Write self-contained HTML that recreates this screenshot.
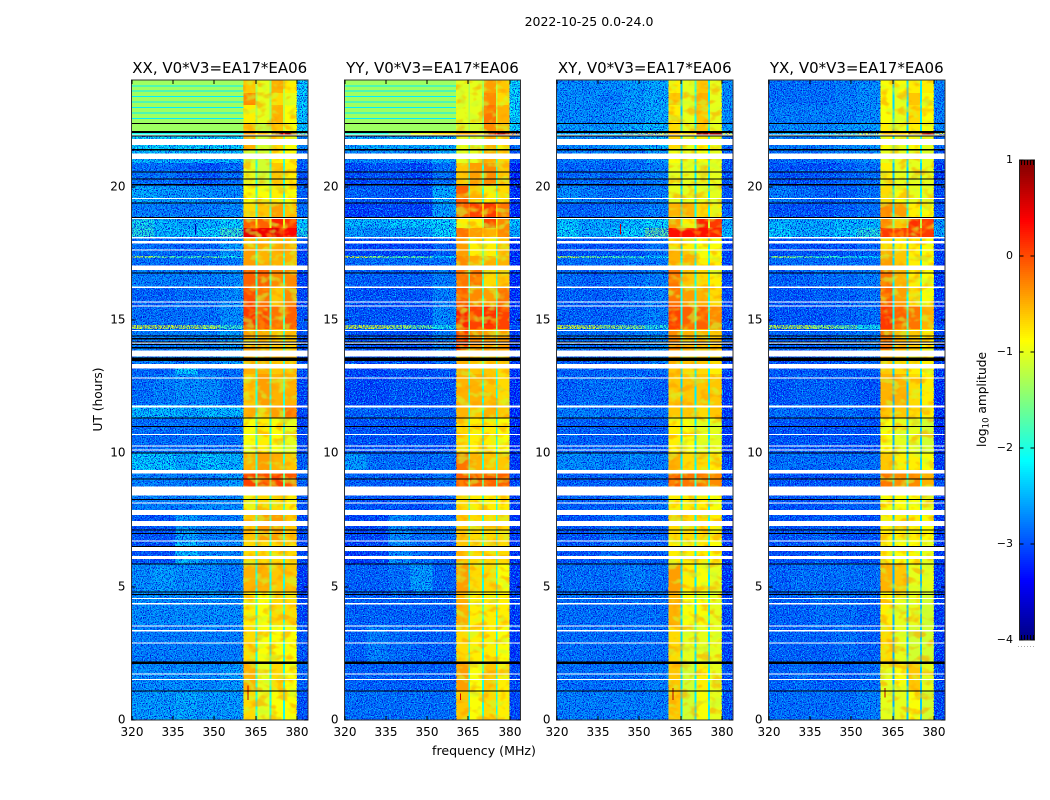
<!DOCTYPE html>
<html lang="en">
<head>
<meta charset="utf-8">
<title>2022-10-25 0.0-24.0</title>
<style>
html,body{margin:0;padding:0;background:#fff;width:1050px;height:800px;overflow:hidden}
svg{display:block}
text{font-family:"DejaVu Sans","Liberation Sans",sans-serif;fill:#000}
</style>
</head>
<body>
<svg id="chart" xmlns="http://www.w3.org/2000/svg" width="1050" height="800" viewBox="0 0 1050 800">
<defs>
<filter id="speckle-dark" x="0" y="0" width="100%" height="100%" color-interpolation-filters="sRGB">
<feTurbulence type="fractalNoise" baseFrequency="0.85" numOctaves="2" seed="3"/>
<feColorMatrix type="matrix" values="0 0 0 0 0  0 0 0 0 0.04  0 0 0 0 0.85  7 0 0 0 -3.35"/>
</filter>
<filter id="speckle-light" x="0" y="0" width="100%" height="100%" color-interpolation-filters="sRGB">
<feTurbulence type="fractalNoise" baseFrequency="0.85" numOctaves="2" seed="11"/>
<feColorMatrix type="matrix" values="0 0 0 0 0  0 0 0 0 0.75  0 0 0 0 1  0 7 0 0 -3.7"/>
</filter>
<filter id="blotch-warm" x="0" y="0" width="100%" height="100%" color-interpolation-filters="sRGB">
<feTurbulence type="fractalNoise" baseFrequency="0.09 0.13" numOctaves="2" seed="5"/>
<feColorMatrix type="matrix" values="0 0 0 0 1  0 0 0 0 0.62  0 0 0 0 0  5 0 0 0 -2.5"/>
</filter>
<filter id="blotch-cool" x="0" y="0" width="100%" height="100%" color-interpolation-filters="sRGB">
<feTurbulence type="fractalNoise" baseFrequency="0.09 0.13" numOctaves="2" seed="23"/>
<feColorMatrix type="matrix" values="0 0 0 0 0.78  0 0 0 0 1  0 0 0 0 0.2  0 5 0 0 -2.6"/>
</filter>
</defs>
<text x="589" y="26" text-anchor="middle" font-size="12.5">2022-10-25 0.0-24.0</text>
<text x="484" y="755" text-anchor="middle" font-size="12.6">frequency (MHz)</text>
<text transform="translate(102,399.5) rotate(-90)" text-anchor="middle" font-size="12.2">UT (hours)</text>
<text transform="translate(986,399.5) rotate(-90)" text-anchor="middle" font-size="12.2">log<tspan font-size="8.5" dy="2.5">10</tspan><tspan dy="-2.5"> amplitude</tspan></text>
</svg>
<script>
// Frequency channel edges (MHz)
const freqEdges = [320,328,336,344,352,360.6,365,365.7,370,370.7,375,375.7,380,384];
// UT band edges (hours), top to bottom
const utEdges = [24,23.51,23.06,22.39,22.09,21.9,21.375,20.89,20.025,19.39,18.79,18.45,18.11,17.625,17.4,17.325,16.875,16.24,15.525,14.81,14.66,13.875,13.35,12.975,11.81,11.325,10.01,9.375,8.74,7.875,6.75,5.85,4.8,3.56,2.175,1.09,0];
// log10 amplitude per [UT band][frequency channel]
const xxValues = [
[-1.35,-1.35,-1.35,-1.35,-1.35,-.6,-1.3,-1,-1.4,-.5,-1.2,-.8,-2.2],
[-1.35,-1.35,-1.35,-1.35,-1.35,-.3,-1.3,-1,-1.4,-.7,-1.2,-1,-2.2],
[-1.35,-1.35,-1.35,-1.35,-1.35,-.8,-1.3,-1,-1.4,-.5,-1.2,-.9,-2.2],
[-1.35,-1.35,-1.35,-1.35,-1.35,-.6,-1.3,-1.2,-1.4,-.6,-1.2,-.9,-2.2],
[-2,-2,-2,-2,-2,-.4,-.8,-.5,-.8,.9,.2,.9,-1.5],
[-2.1,-2.1,-2.1,-2.1,-2.1,-.5,-1.4,-1.1,-1.5,-.7,-1.5,-.9,-2.6],
[-2.3,-2.3,-2.3,-2.3,-2.3,-1.1,-1.8,-1.1,-1.8,-.8,-1.8,-.9,-2.8],
[-2.8,-2.8,-2.9,-3,-2.8,-1,-1.9,-1.1,-1.9,-.6,-1.9,-.8,-3],
[-2.4,-2.5,-2.5,-2.6,-2.6,-.9,-1.8,-.9,-1.8,-.8,-1.9,-.9,-2.9],
[-2.7,-2.7,-2.7,-2.7,-2.6,-.7,-1.8,-.6,-1.7,-.4,-1.8,-.6,-2.8],
[-2,-2.3,-2.4,-2.3,-2.1,-.1,-1,-.1,-1,.2,-1,.1,-2.2],
[-1.9,-2.3,-2.3,-2.1,-1.8,.5,.3,.45,.3,.5,.3,.35,-2],
[-2.8,-2.8,-2.9,-2.8,-2.5,-.5,-1.8,-.5,-1.8,-.5,-1.8,-.5,-3],
[-2.8,-2.8,-2.9,-2.8,-2.5,-.4,-1.8,-.5,-1.8,-.5,-1.8,-.5,-3.2],
[-1.2,-1.6,-1.8,-1.6,-2,-.4,-1.5,-.5,-1.5,-.5,-1.5,-.5,-3],
[-2.8,-2.8,-2.8,-2.8,-2.7,-.4,-1.8,-.5,-1.8,-.5,-1.8,-.5,-3.2],
[-2.7,-2.7,-2.7,-2.7,-2.6,-.1,-1.8,-.1,-1.8,-.3,-1.8,-.3,-3.1],
[-2.9,-2.9,-2.8,-2.8,-2.6,0,-1.8,-.2,-1.8,-.6,-1.8,-.3,-3.1],
[-2.8,-2.8,-2.8,-2.8,-2.6,.1,-1.8,0,-1.8,-.2,-1.8,-.1,-3],
[-1,-1,-1.1,-1.2,-1.8,0,-1.5,0,-1.5,-.2,-1.5,-.1,-3],
[-2.7,-2.7,-2.7,-2.7,-2.5,-.4,-1.8,-.5,-1.8,-.6,-1.8,-.6,-3],
[-2.7,-2.7,-2.7,-2.7,-2.5,-.5,-1.8,-.5,-1.8,-.6,-1.8,-.6,-3],
[-2.9,-2.9,-2.2,-2.8,-2.8,-.5,-1.8,-.5,-1.8,-.6,-1.8,-.6,-3],
[-2.8,-2.7,-2.6,-2.6,-2.8,-.6,-1.9,-.4,-1.9,-.5,-1.9,-.5,-3.1],
[-2.3,-2.3,-2.4,-2.3,-2.3,-.5,-1.9,-.6,-1.9,-.4,-1.9,-.2,-3.1],
[-2.8,-2.8,-2.8,-2.8,-2.8,-.9,-1.9,-.8,-1.9,-.9,-1.9,-1,-3.1],
[-2.2,-2.2,-2.4,-2.2,-2.3,-.5,-1.8,-.4,-1.8,-.5,-1.8,-.6,-2.9],
[-2.7,-2.7,-2.7,-2.7,-2.5,.05,-1.6,0,-1.6,.05,-1.6,-.05,-2.9],
[-2.7,-2.7,-2.7,-2.6,-2.6,-.8,-1.8,-.7,-1.8,-.7,-1.8,-.8,-3],
[-3,-3,-2.5,-2.7,-2.7,-.6,-1.8,-.4,-1.8,-.4,-1.8,-.6,-3.1],
[-3,-3,-2.3,-2.6,-2.6,-.7,-1.9,-.7,-1.9,-.7,-1.9,-.7,-3.1],
[-2.6,-2.5,-2.6,-2.6,-2.7,-.5,-2,-.5,-2,-.6,-2,-.6,-3.2],
[-2.6,-2.6,-2.6,-2.6,-2.6,-.8,-1.9,-.9,-1.9,-.7,-1.9,-.7,-3.1],
[-2.7,-2.7,-2.7,-2.7,-2.7,-.7,-2,-.9,-2,-.9,-2,-.9,-3],
[-2.6,-2.6,-2.6,-2.6,-2.5,-.5,-1.9,-1,-1.9,-.7,-1.9,-.9,-2.9],
[-2.5,-2.5,-2.4,-2.5,-2.5,-.7,-2,-1,-2,-.9,-2,-.9,-3]
];
const yyValues = [
[-1.35,-1.35,-1.35,-1.35,-1.35,-1,-1.3,-1,-1.4,-.4,-1.2,-.6,-2.1],
[-1.35,-1.35,-1.35,-1.35,-1.35,-1,-1.3,-1,-1.4,-.3,-1.2,-.7,-2.1],
[-1.35,-1.35,-1.35,-1.35,-1.35,-1,-1.3,-1,-1.4,-.2,-1.2,-.5,-2.1],
[-1.35,-1.35,-1.35,-1.35,-1.35,-1.1,-1.3,-1.1,-1.4,-.3,-1.2,-.5,-2.1],
[-1.9,-1.9,-1.6,-1,-.7,-.5,-.5,-.5,-.5,.9,.2,.9,-.4],
[-2.4,-2.4,-2.4,-2.4,-2.3,-1,-1.7,-1.1,-1.7,-.5,-1.7,-.8,-2.8],
[-2.6,-2.6,-2.6,-2.6,-2.4,-1,-1.8,-1,-1.8,-.5,-1.8,-.7,-3],
[-3.1,-3,-3,-3.1,-2.8,-.6,-1.9,-.4,-1.9,-.3,-1.9,-.6,-3.4],
[-2.9,-2.9,-3,-3,-2.4,-.1,-1.9,-.6,-1.9,-.8,-1.9,-.7,-3.3],
[-3.2,-3.1,-3.1,-3.1,-2.5,-.1,-.2,.05,-.6,.1,-.6,-.2,-3.3],
[-2.3,-2.3,-2.2,-2.2,-2.1,-.8,-1.3,-.8,-1.3,0,-1,-.3,-2.2],
[-2.5,-2.6,-2.5,-2.5,-2.1,-.2,-.5,-.4,-.6,-.5,-.7,-.3,-2.4],
[-3.1,-3.1,-3.1,-3.1,-2.9,-.4,-1.8,-.8,-1.8,-.8,-1.8,-.6,-3.3],
[-3.1,-3.1,-3.1,-3.1,-2.9,-.4,-1.8,-.8,-1.8,-.8,-1.8,-.6,-3.3],
[-1,-1.4,-1.7,-1.6,-2.2,-.3,-1.5,-.5,-1.5,-.5,-1.5,-.5,-3.3],
[-2.8,-2.8,-2.8,-2.8,-2.8,-.3,-1.8,-.5,-1.8,-.5,-1.8,-.5,-3.3],
[-2.9,-2.9,-2.9,-2.9,-2.7,-.2,-1.8,-.2,-1.8,-.7,-1.8,-.6,-3.3],
[-3,-3,-3,-3,-2.7,-.1,-1.8,-.3,-1.8,-.4,-1.8,-.2,-3.3],
[-3,-3,-3,-3,-2.6,.2,-1.7,.05,-1.7,.15,-1.7,.05,-3.2],
[-1,-1,-1.2,-1.5,-2,.2,-1.5,.05,-1.5,.1,-1.5,.05,-3],
[-3,-3,-3,-3,-2.7,.1,-1.7,-.3,-1.7,-.4,-1.7,-.4,-3.2],
[-3,-3,-3,-3,-2.8,-.5,-1.8,-.6,-1.8,-.6,-1.8,-.6,-3.2],
[-3.1,-3.1,-3,-3.1,-3,-.5,-1.9,-.6,-1.9,-.6,-1.9,-.7,-3.3],
[-3.1,-3.1,-3,-3,-3,-.5,-2,-.5,-2,-.6,-2,-.7,-3.3],
[-2.9,-2.9,-2.9,-2.9,-2.9,-.5,-2,-.6,-2,-.5,-2,-.6,-3.3],
[-3,-3,-3,-3,-3,-.7,-2,-.8,-2,-.8,-2,-.9,-3.3],
[-2.5,-2.8,-2.8,-2.8,-2.8,-.2,-1.9,-.5,-1.9,-.6,-1.9,-.6,-3.2],
[-2.9,-2.9,-2.9,-2.9,-2.8,-.1,-1.7,-.1,-1.7,-.1,-1.7,-.1,-3.1],
[-3,-3,-3,-3,-2.9,-.7,-1.9,-.8,-1.9,-.8,-1.9,-.8,-3.2],
[-3.1,-3.1,-2.6,-2.8,-2.8,-.6,-1.9,-.7,-1.9,-.7,-1.9,-.7,-3.2],
[-3.2,-3.1,-2.6,-2.8,-2.9,-.6,-1.9,-.7,-1.9,-.7,-1.9,-.7,-3.2],
[-2.9,-2.9,-2.8,-2.5,-2.9,-.4,-2,-.7,-2,-.7,-2,-.9,-3.2],
[-2.9,-2.9,-2.9,-2.9,-2.9,-.5,-2,-.8,-2,-.8,-2,-.8,-3.2],
[-2.9,-2.7,-2.8,-2.9,-2.9,-.7,-2,-.8,-2,-.8,-2,-.9,-3.2],
[-2.9,-2.9,-2.9,-2.9,-2.9,-.4,-2,-.9,-2,-.6,-2,-.8,-3.1],
[-2.8,-2.8,-2.8,-2.8,-2.8,-.6,-2,-.9,-2,-.7,-2,-.8,-3.1]
];
const xyValues = [
[-2.6,-2.6,-2.6,-2.5,-2.4,-.8,-2.4,-1,-2,-.6,-2.2,-1,-2.6],
[-2.6,-2.6,-2.7,-2.5,-2.4,-.6,-2.4,-1,-2,-.5,-2.2,-1,-2.6],
[-2.6,-2.6,-2.6,-2.5,-2.4,-.8,-2.4,-1,-2,-.6,-2.2,-1,-2.6],
[-2.5,-2.5,-2.5,-2.4,-2.3,-.7,-2.3,-1,-2,-.6,-2.2,-1,-2.5],
[-2.3,-2.3,-2.1,-1.5,-1,-.5,-.8,-.6,-.8,.9,.2,.9,-.9],
[-2.6,-2.6,-2.6,-2.5,-2.3,-.7,-2.2,-1,-2.1,-.8,-2.1,-1,-2.8],
[-2.7,-2.7,-2.7,-2.7,-2.5,-.9,-2.2,-1,-2.1,-.9,-2.1,-1,-2.9],
[-2.9,-2.8,-2.9,-2.8,-2.7,-1,-2.4,-1,-2.2,-1,-2.2,-1,-3],
[-2.6,-2.7,-2.8,-2.8,-2.7,-1,-2.3,-1,-2.1,-1,-2.2,-1,-3],
[-2.9,-2.9,-2.8,-2.8,-2.7,-.5,-2.2,-.5,-2,-.7,-2.1,-.8,-2.9],
[-2.2,-2.4,-2.4,-2.2,-2.1,-.4,-1.6,-.8,-1.4,.2,-1.1,.1,-2.4],
[-2.1,-2.4,-2.3,-2.1,-1.6,.3,.2,.3,.15,.3,.1,.2,-2.3],
[-3,-3,-3,-3,-2.8,-.7,-2.3,-.8,-2.1,-.9,-2.1,-.9,-3.1],
[-3,-3,-3,-3,-2.8,-.5,-2.3,-.6,-2.1,-.9,-2.1,-.9,-3.1],
[-1.2,-1.5,-1.7,-1.8,-2.1,-.5,-2,-.6,-1.8,-.9,-1.9,-.9,-3],
[-2.8,-2.8,-2.8,-2.7,-2.7,-.5,-2.2,-.5,-2.1,-.8,-2.1,-.8,-3.1],
[-2.8,-2.9,-2.8,-2.8,-2.7,-.2,-2.1,-.6,-2,-.7,-2,-.8,-3.1],
[-2.9,-2.9,-2.9,-2.8,-2.7,-.2,-2.1,-.4,-2,-.5,-2,-.7,-3.1],
[-2.9,-2.9,-2.9,-2.8,-2.7,.05,-2,-.1,-1.9,-.1,-1.9,-.3,-3.1],
[-1,-1.1,-1.3,-1.4,-1.9,.05,-1.7,-.1,-1.7,-.1,-1.7,-.3,-3],
[-2.8,-2.8,-2.8,-2.7,-2.6,-.3,-2.1,-.5,-2,-.5,-2,-.6,-3],
[-2.9,-2.9,-2.9,-2.9,-2.7,-.5,-2.1,-.6,-2,-.6,-2,-.7,-3.1],
[-2.9,-2.9,-2.9,-2.9,-2.8,-.6,-2.2,-.7,-2.1,-.7,-2.1,-.8,-3.1],
[-2.9,-2.8,-2.8,-2.8,-2.9,-.6,-2.3,-.6,-2.2,-.6,-2.2,-.6,-3.2],
[-2.7,-2.7,-2.8,-2.7,-2.8,-.6,-2.3,-.6,-2.2,-.7,-2.2,-.6,-3.2],
[-2.9,-2.9,-2.9,-2.9,-2.9,-.8,-2.3,-.9,-2.2,-1,-2.2,-1,-3.2],
[-2.6,-2.6,-2.7,-2.6,-2.7,-.5,-2.2,-.7,-2.1,-.7,-2.1,-.8,-3.1],
[-2.9,-2.9,-2.9,-2.9,-2.8,-.1,-1.9,-.2,-1.9,-.2,-1.9,-.3,-3.1],
[-2.9,-2.9,-2.9,-2.8,-2.8,-.8,-2.2,-.8,-2.1,-.8,-2.1,-.9,-3.1],
[-3,-3,-2.8,-2.9,-2.9,-.7,-2.2,-.7,-2.1,-.7,-2.1,-.8,-3.2],
[-3,-3,-2.8,-2.9,-2.9,-.8,-2.2,-.8,-2.1,-.8,-2.1,-.9,-3.2],
[-2.8,-2.8,-2.8,-2.7,-2.8,-.4,-2.3,-.8,-2.2,-.9,-2.2,-1,-3.2],
[-2.8,-2.8,-2.8,-2.8,-2.8,-.5,-2.3,-.9,-2.2,-.9,-2.2,-1,-3.1],
[-2.8,-2.8,-2.8,-2.8,-2.8,-.7,-2.3,-1,-2.2,-1,-2.2,-1,-3.1],
[-2.8,-2.8,-2.8,-2.8,-2.7,-.6,-2.3,-1.1,-2.2,-.8,-2.2,-1,-3],
[-2.7,-2.7,-2.7,-2.7,-2.7,-.6,-2.3,-1.1,-2.2,-.9,-2.2,-1,-3]
];
const yxValues = [
[-2.8,-2.8,-2.8,-2.7,-2.6,-.9,-2.3,-.9,-2.3,-.8,-2.2,-.8,-2.7],
[-2.8,-2.8,-2.8,-2.7,-2.6,-.9,-2.3,-1,-2.3,-.6,-2.2,-.9,-2.7],
[-2.7,-2.7,-2.7,-2.7,-2.6,-.9,-2.3,-1,-2.3,-.7,-2.2,-.9,-2.7],
[-2.6,-2.6,-2.6,-2.5,-2.5,-.8,-2.3,-1,-2.3,-.8,-2.2,-.9,-2.6],
[-2.3,-2.3,-2.1,-1.7,-1.1,-.5,-.9,-.6,-.9,.9,.2,.9,-1],
[-2.7,-2.7,-2.7,-2.6,-2.5,-.9,-2.2,-1,-2.2,-.9,-2.1,-1,-2.9],
[-2.8,-2.8,-2.8,-2.7,-2.6,-1,-2.2,-1,-2.2,-1,-2.1,-1,-3],
[-3,-3,-3,-2.9,-2.8,-.8,-2.4,-1,-2.3,-1,-2.3,-1,-3.2],
[-2.7,-2.8,-2.9,-2.9,-2.8,-.7,-2.3,-.9,-2.2,-1,-2.2,-1,-3.1],
[-3,-3,-3,-2.9,-2.8,-.3,-2.2,-.4,-2.1,-.8,-2.1,-.9,-3],
[-2.3,-2.4,-2.4,-2.3,-2.3,-.3,-1.6,-.6,-1.5,.15,-1.2,.05,-2.5],
[-2.2,-2.4,-2.4,-2.2,-1.9,.1,-.2,.05,-.2,.1,-.2,.1,-2.4],
[-3,-3,-3,-3,-2.9,-.7,-2.4,-.8,-2.3,-.8,-2.3,-.9,-3.2],
[-3,-3,-3,-3,-2.9,-.5,-2.4,-.6,-2.3,-.8,-2.3,-.9,-3.2],
[-1.3,-1.6,-1.8,-1.9,-2.2,-.4,-2,-.6,-2,-.8,-2,-.9,-3.1],
[-2.8,-2.8,-2.8,-2.8,-2.8,-.4,-2.3,-.6,-2.2,-.8,-2.2,-.9,-3.1],
[-2.9,-2.9,-2.8,-2.8,-2.7,-.2,-2.2,-.5,-2.1,-.8,-2.1,-.9,-3.2],
[-3,-3,-2.9,-2.9,-2.8,-.1,-2.2,-.4,-2.1,-.7,-2.1,-.9,-3.2],
[-3,-3,-3,-2.9,-2.8,.1,-2.1,-.1,-2,-.2,-2,-.5,-3.2],
[-1.1,-1.1,-1.3,-1.5,-2,.1,-1.8,-.1,-1.8,-.2,-1.8,-.5,-3],
[-2.9,-2.9,-2.9,-2.8,-2.7,-.2,-2.2,-.5,-2.1,-.6,-2.1,-.8,-3.1],
[-3,-3,-3,-3,-2.8,-.6,-2.3,-.7,-2.2,-.7,-2.2,-.8,-3.2],
[-3,-3,-3,-3,-2.9,-.6,-2.3,-.7,-2.2,-.8,-2.2,-.9,-3.2],
[-3,-2.9,-2.9,-2.9,-3,-.5,-2.5,-.5,-2.4,-.7,-2.4,-.8,-3.3],
[-2.8,-2.8,-2.9,-2.8,-2.9,-.6,-2.5,-.6,-2.4,-.7,-2.4,-.8,-3.3],
[-3,-3,-3,-3,-3,-.9,-2.5,-1,-2.4,-1,-2.4,-1.1,-3.3],
[-2.8,-2.8,-2.8,-2.8,-2.8,-.6,-2.4,-.8,-2.3,-.8,-2.3,-.9,-3.2],
[-3,-3,-3,-3,-2.9,-.2,-2.1,-.3,-2,-.3,-2,-.5,-3.1],
[-3,-3,-3,-2.9,-2.9,-.9,-2.4,-.9,-2.3,-.9,-2.3,-1,-3.2],
[-3,-3,-2.9,-3,-3,-.8,-2.4,-.8,-2.3,-.8,-2.3,-.9,-3.2],
[-3,-3,-2.9,-3,-3,-.8,-2.4,-.9,-2.3,-.9,-2.3,-1,-3.2],
[-2.9,-2.8,-2.8,-2.8,-2.8,-.5,-2.5,-.6,-2.4,-1,-2.4,-1,-3.2],
[-2.9,-2.9,-2.8,-2.8,-2.9,-.8,-2.5,-1,-2.4,-1,-2.4,-1.1,-3.2],
[-2.9,-2.9,-2.9,-2.8,-2.9,-.7,-2.5,-1,-2.4,-1.1,-2.4,-1.1,-3.2],
[-2.9,-2.8,-2.9,-2.9,-2.8,-1,-2.5,-.9,-2.4,-.6,-2.4,-1,-3.1],
[-2.8,-2.8,-2.8,-2.8,-2.7,-1,-2.5,-1,-2.4,-.9,-2.4,-1.1,-3.1]
];
// Flagged (no data) UT ranges in hours: [end, start]
const whiteFlags = [[21.96,21.93],[21.79,21.56],[21.25,21.04],[19.58,19.53],[18.84,18.79],[18.11,18.06],[17.96,17.875],[17.65,17.6],[17.05,16.875],[16.25,16.2],[15.69,15.65],[15.55,15.5],[14.625,14.59],[14.16,14.12],[13.85,13.625],[13.35,13.19],[12.85,12.825],[11.8,11.725],[10.725,10.7],[10.29,10.25],[10.15,10.11],[9.375,9.25],[8.75,8.41],[8.16,8.12],[7.875,7.69],[7.46,7.275],[6.74,6.7],[6.5,6.34],[6.15,6.04],[4.575,4.53],[4.38,4.34],[3.55,3.51],[3.375,3.31],[2.91,2.875],[1.74,1.71],[1.54,1.51]];
const blackFlags = [[22.39,22.36],[22.09,22.01],[21.91,21.89],[21.42,21.35],[20.56,20.53],[20.31,20.27],[20.1,20.04],[19.4,19.38],[18.86,18.84],[16.79,16.76],[14.41,14.39],[14.325,14.275],[14.19,14.16],[14.1,14.08],[13.98,13.925],[13.6,13.46],[11.35,11.325],[11.025,11],[10.04,10],[9.05,9.03],[8.29,8.26],[7.15,7.125],[7.02,7],[6.525,6.5],[5.875,5.85],[4.81,4.775],[4.73,4.71],[2.19,2.1],[1.11,1.09]];
// Periodic dips in the smooth top block (hours)
const dipHours = [23.8,23.6,23.4,23.2,22.99,22.79,22.58];
// Narrow hot features: [panel, freq MHz, start h, end h, log10 amp]
const hotFeatures = [[0,362,0.75,1.3,.7],[1,362,0.75,1.0,.6],[2,362,0.75,1.2,.7],[3,362,0.85,1.2,.7],[2,343,18.2,18.6,.6],[0,343,18.2,18.6,-3.8]];
// Tick values
const freqTicks = [320,335,350,365,380];
const utTicks = [0,5,10,15,20];
const cbarTicks = [1,0,-1,-2,-3,-4];
const panelTitles = ["XX, V0*V3=EA17*EA06","YY, V0*V3=EA17*EA06","XY, V0*V3=EA17*EA06","YX, V0*V3=EA17*EA06"];

const panelValues = [xxValues, yyValues, xyValues, yxValues];
const panelLefts = [131.5, 344.5, 556.5, 768.5];
const panelWidths = [176.5, 176, 176.5, 176.5];
const plotTop = 80, plotBottom = 720;
const NS = "http://www.w3.org/2000/svg";
const root = document.getElementById("chart");

function xScale(p, f){ return panelLefts[p] + (f - 320) * panelWidths[p] / 64; }
function yScale(h){ return plotBottom - h * (plotBottom - plotTop) / 24; }
function jet(v){
  const t = Math.max(0, Math.min(1, (v + 4) / 5));
  const ch = (c) => Math.round(255 * Math.max(0, Math.min(1, 1.5 - Math.abs(4 * t - c))));
  return "rgb(" + ch(3) + "," + ch(2) + "," + ch(1) + ")";
}
function make(tag, attrs, parent){
  const el = document.createElementNS(NS, tag);
  for (const k in attrs) el.setAttribute(k, attrs[k]);
  parent.appendChild(el);
  return el;
}
function line(x1, y1, x2, y2, parent, name){
  const el = make("line", {x1, y1, x2, y2, stroke:"#000", "stroke-width":1, "shape-rendering":"crispEdges"}, parent);
  
  
  return el;
}

panelValues.forEach((values, p) => {
  const g = make("g", {}, root);
  
  
  const left = xScale(p, 320), right = left + panelWidths[p];

  values.forEach((row, r) => {
    row.forEach((v, c) => {
      const x0 = xScale(p, freqEdges[c]), x1 = xScale(p, freqEdges[c + 1]);
      const y0 = yScale(utEdges[r]), y1 = yScale(utEdges[r + 1]);
      const cell = make("rect", {x:x0, y:y0, width:x1 - x0, height:y1 - y0, fill:jet(v), "shape-rendering":"crispEdges"}, g);
      
      
    });
  });

  if (p < 2) {
    dipHours.forEach((h) => {
      const dip = make("rect", {x:left, y:yScale(h), width:xScale(p, 360.6) - left, height:1, fill:jet(-2.2), "shape-rendering":"crispEdges"}, g);
      
      
    });
  }

  const speckTop = p < 2 ? yScale(21.9) : plotTop;
  ["blotch-warm","blotch-cool"].forEach((fid) => {
    const b = make("rect", {x:xScale(p,360.6), y:plotTop, width:xScale(p,380) - xScale(p,360.6), height:plotBottom - plotTop, filter:"url(#" + fid + ")", opacity:.55}, g);
    
    
  });
  ["speckle-dark","speckle-light"].forEach((fid) => {
    const s = make("rect", {x:xScale(p,320), y:speckTop, width:xScale(p,360.6) - xScale(p,320), height:plotBottom - speckTop, filter:"url(#" + fid + ")"}, g);
    
    
    const e = make("rect", {x:xScale(p,380), y:plotTop, width:xScale(p,384) - xScale(p,380), height:plotBottom - plotTop, filter:"url(#" + fid + ")"}, g);
    
    
  });

  hotFeatures.filter((f) => f[0] === p).forEach((f) => {
    const m = make("rect", {x:xScale(p, f[1]), y:yScale(f[3]), width:1, height:yScale(f[2]) - yScale(f[3]), fill:jet(f[4]), "shape-rendering":"crispEdges"}, g);
    
    
  });

  whiteFlags.forEach((b) => {
    const f = make("rect", {x:left, y:yScale(b[0]), width:panelWidths[p], height:Math.max(1, yScale(b[1]) - yScale(b[0])), fill:"#fff", "shape-rendering":"crispEdges"}, g);
    
    
  });
  blackFlags.forEach((b) => {
    const f = make("rect", {x:left, y:yScale(b[0]), width:panelWidths[p], height:Math.max(1, yScale(b[1]) - yScale(b[0])), fill:"#000", "shape-rendering":"crispEdges"}, g);
    
    
  });

  const frame = make("rect", {x:left, y:plotTop, width:panelWidths[p], height:plotBottom - plotTop, fill:"none", stroke:"#333", "stroke-width":1}, g);
  
  

  freqTicks.forEach((f) => {
    const x = Math.round(xScale(p, f));
    line(x, plotBottom, x, plotBottom - 4, g, 'x-tick-bottom');
    line(x, plotTop, x, plotTop + 4, g, 'x-tick-top');
    const t = make("text", {x, y:plotBottom + 16, "text-anchor":"middle", "font-size":12}, g);
    
    
    t.textContent = f;
  });
  utTicks.forEach((h) => {
    const y = Math.round(yScale(h));
    line(left, y, left + 4, y, g, 'y-tick-left');
    line(right, y, right - 4, y, g, 'y-tick-right');
    const t = make("text", {x:left - 6, y:y + 3.5, "text-anchor":"end", "font-size":12}, g);
    
    
    t.textContent = h;
  });

  const title = make("text", {x:left + panelWidths[p] / 2, y:73, "text-anchor":"middle", "font-size":15}, g);
  
  
  title.textContent = panelTitles[p];
});

// Colorbar
const cbLeft = 1019.5, cbWidth = 15, cbTop = 160, cbBottom = 640;
function cbScale(v){ return cbBottom - (v + 4) * (cbBottom - cbTop) / 5; }
const cbar = make("g", {}, root);


for (let yy = cbTop; yy < cbBottom; yy += 2) {
  const v = 1 - (yy - cbTop) * 5 / (cbBottom - cbTop);
  const seg = make("rect", {x:cbLeft, y:yy, width:cbWidth, height:2, fill:jet(v), "shape-rendering":"crispEdges"}, cbar);
  
  
}
const cbFrame = make("rect", {x:cbLeft, y:cbTop, width:cbWidth, height:cbBottom - cbTop, fill:"none", stroke:"#222", "stroke-width":1}, cbar);


cbarTicks.forEach((v) => {
  const y = Math.round(cbScale(v));
  line(cbLeft, y, cbLeft + 4, y, cbar, 'colorbar-tick-left');
  line(cbLeft + cbWidth - 4, y, cbLeft + cbWidth, y, cbar, 'colorbar-tick-right');
  const t = make("text", {x:1013, y:y + 3, "text-anchor":"end", "font-size":11}, cbar);
  
  
  t.textContent = v < 0 ? "\u2212" + Math.abs(v) : String(v);
});
[2,5,8,11,14].forEach((dx) => {
  line(cbLeft + dx, cbTop, cbLeft + dx, cbTop + 5, cbar, 'colorbar-minor-tick-top');
  line(cbLeft + dx, cbBottom, cbLeft + dx, cbBottom - 5, cbar, 'colorbar-minor-tick-bottom');
});
const dots = make("line", {x1:1018, y1:646.5, x2:1035, y2:646.5, stroke:"#aaa", "stroke-width":1, "stroke-dasharray":"1 2"}, cbar);


</script>
</body>
</html>
